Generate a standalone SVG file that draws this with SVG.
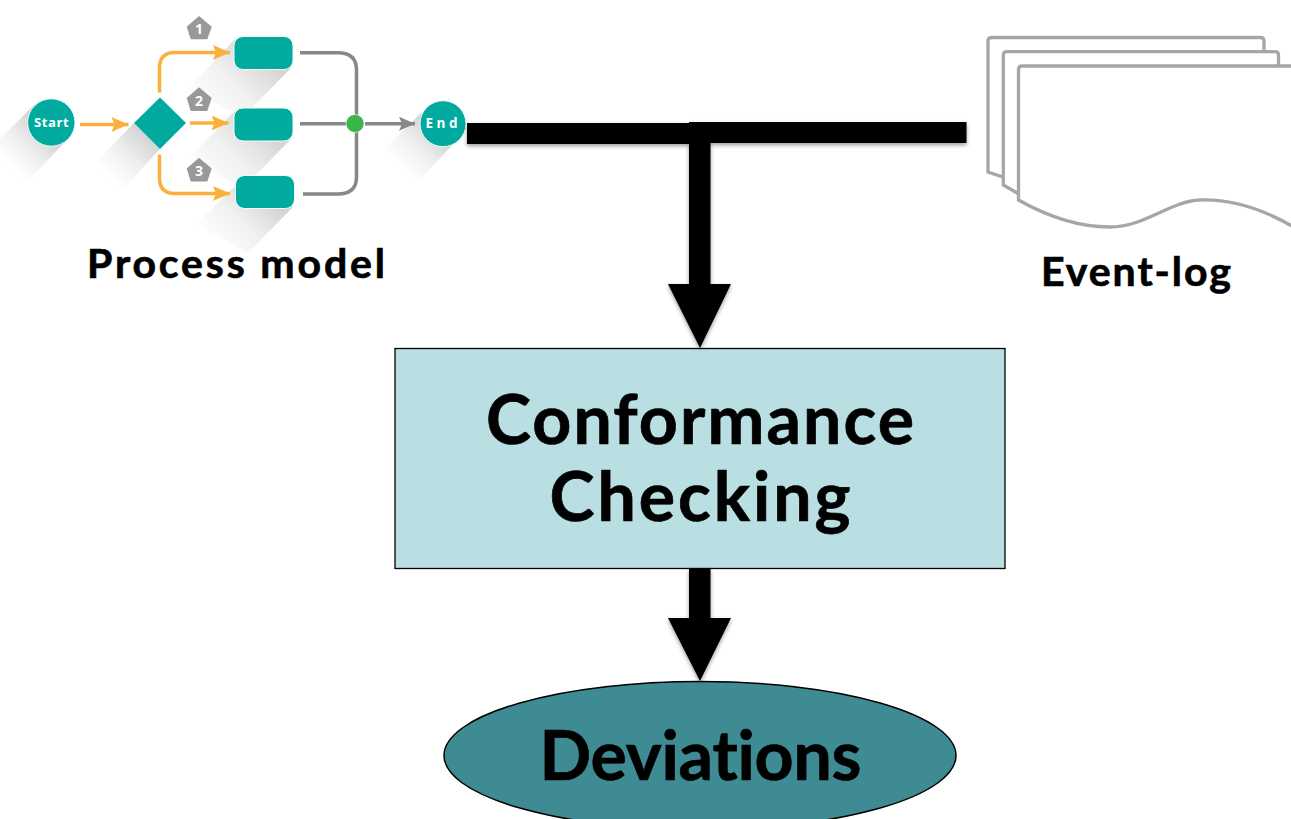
<svg xmlns="http://www.w3.org/2000/svg" width="1291" height="819" viewBox="0 0 1291 819">
<defs>
<linearGradient id="fade"><stop offset="0" stop-color="#000" stop-opacity=".17"/><stop offset=".5" stop-color="#000" stop-opacity=".06"/><stop offset="1" stop-color="#000" stop-opacity="0"/></linearGradient>
<linearGradient id="s-start" href="#fade" gradientUnits="userSpaceOnUse" x1="44" y1="129" x2="8" y2="165"/>
<linearGradient id="s-gate" href="#fade" gradientUnits="userSpaceOnUse" x1="147" y1="136" x2="108" y2="177"/>
<linearGradient id="s-t1" href="#fade" gradientUnits="userSpaceOnUse" x1="272" y1="60" x2="212" y2="120"/>
<linearGradient id="s-t2" href="#fade" gradientUnits="userSpaceOnUse" x1="272" y1="131" x2="212" y2="191"/>
<linearGradient id="s-t3" href="#fade" gradientUnits="userSpaceOnUse" x1="272" y1="199" x2="220" y2="251"/>
<linearGradient id="s-end" href="#fade" gradientUnits="userSpaceOnUse" x1="436" y1="130" x2="399" y2="167"/>
<filter id="drop" x="-5%" y="-5%" width="110%" height="110%"><feDropShadow dx="0" dy="2" stdDeviation="2" flood-color="#000" flood-opacity=".4"/></filter>
<marker id="oa" markerUnits="userSpaceOnUse" markerWidth="18" markerHeight="16" refX="17" refY="7.500" orient="auto"><path d="M0,0 L17,7.500 L0,15 L3,7.500 Z" fill="#fbb03b"/></marker>
<marker id="ga" markerUnits="userSpaceOnUse" markerWidth="18" markerHeight="16" refX="16" refY="7" orient="auto"><path d="M0,0 L16,7 L0,14 L3,7 Z" fill="#888"/></marker>
</defs>
<style>
.lab{font-family:"Lato","Liberation Sans",sans-serif;font-weight:700;fill:#000;stroke:#000;stroke-width:.7;text-anchor:middle;font-variant-ligatures:none}
.big{font-size:68px}
.sm{font-size:41px}
.t{fill:#00aa9e;stroke:#f2fafa;stroke-width:1}
.o{fill:none;stroke:#fbb03b;stroke-width:3.500}
.g{fill:none;stroke:#888;stroke-width:3.500}
.p{fill:#fff;stroke:#a6a6a6;stroke-width:3.300}
.nt{font-family:"Open Sans","Liberation Sans",sans-serif;font-weight:700;fill:#fff;text-anchor:middle}
.pn{font-family:"Open Sans","Liberation Sans",sans-serif;font-weight:700;fill:#fff;text-anchor:middle;font-size:14px}
.pent{fill:#999}
</style>
<g id="shadows">
<path d="M34,105 L0,139 L0,165 L23,186 L68,139 Z" fill="url(#s-start)"/>
<path d="M134,123 L95,163 L122,190 L160,149 Z" fill="url(#s-gate)"/>
<path d="M234,40 L187,90 L243,117 L291,68 Z" fill="url(#s-t1)"/>
<path d="M234,112 L187,160 L243,188 L291,139 Z" fill="url(#s-t2)"/>
<path d="M236,185 L195,225 L248,253 L293,207 Z" fill="url(#s-t3)"/>
<path d="M421,113 L383,150 L415,185 L459,138 Z" fill="url(#s-end)"/>
</g>
<g id="connectors">
<path class="o" d="M80,124.500 H128.500" marker-end="url(#oa)"/>
<path class="o" d="M190,123 H228.500" marker-end="url(#oa)"/>
<path class="o" d="M159.500,92.500 V68 Q159.500,52.500 175,52.500 H230" marker-end="url(#oa)"/>
<path class="o" d="M159.500,154.500 V178 Q159.500,193.500 175,193.500 H230" marker-end="url(#oa)"/>
<path class="g" d="M300,52.700 H338 Q356.500,52.700 356.500,70 V177 Q356.500,194 338,194 H303"/>
<path class="g" d="M300,123.700 H346"/>
<path class="g" d="M365,123.700 H415" marker-end="url(#ga)"/>
</g>
<g id="start"><circle class="t" cx="51.300" cy="122.500" r="23.700"/><text class="nt" x="51.300" y="126.700" font-size="13" textLength="34.500">Start</text></g>
<g id="gateway"><polygon points="160,97.500 186,123 160,149 134,123" fill="#00aa9e"/></g>
<g id="task1"><rect class="t" x="234" y="36.500" width="59" height="33" rx="9"/></g>
<g id="task2"><rect class="t" x="234" y="108" width="59" height="33" rx="9"/></g>
<g id="task3"><rect class="t" x="235.500" y="175.500" width="59" height="33" rx="9"/></g>
<g id="badge1"><polygon class="pent" points="199,16 211.700,26.700 207.300,39.300 190.700,39.300 186.700,26.700"/><text class="pn" x="199" y="34">1</text></g>
<g id="badge2"><polygon class="pent" points="199,87.300 211.700,98 207.300,111 190.700,111 186.700,98"/><text class="pn" x="199" y="105.500">2</text></g>
<g id="badge3"><polygon class="pent" points="199,157.700 211.700,168.500 207.300,181.500 190.700,181.500 186.700,168.500"/><text class="pn" x="199" y="176">3</text></g>
<g id="join"><circle cx="355" cy="123.500" r="9" fill="#39b54a" stroke="#eef7ee" stroke-width=".6"/></g>
<g id="end"><circle class="t" cx="443" cy="123.700" r="23"/><text class="nt" x="443.300" y="128.300" font-size="13.500" letter-spacing="3.500">End</text></g>
<g id="process-model-label"><text class="lab sm" x="236" y="277.500" textLength="298">Process model</text></g>
<g id="event-log">
<path class="p" d="M988,172 V41 Q988,37.500 992,37.500 H1260 Q1264,37.500 1264,41 V60 H1012 V180 Z"/>
<path class="p" d="M1003.300,185 V55 Q1003.300,51.700 1007,51.700 H1275 Q1278.500,51.700 1278.500,55 V70 H1024 V197 Z"/>
<path class="p" d="M1018.500,200 V69.500 Q1018.500,66 1022,66 H1300 V232 L1291,225.500 C1262,209 1230,199 1200,200 C1170,201 1145,227 1110,227 C1075,227 1045,215 1018.500,200 Z"/>
<text class="lab sm" x="1136" y="286" textLength="190">Event-log</text>
</g>
<g id="conformance"><rect x="395" y="348.500" width="610" height="220" fill="#b9dfe2" stroke="#000" stroke-width="1.300"/><text class="lab big" x="700" y="444" textLength="428">Conformance</text><text class="lab big" x="700" y="520.500" textLength="301">Checking</text></g>
<g id="deviations"><ellipse cx="700" cy="755.500" rx="256" ry="74" fill="#3e8b93" stroke="#000" stroke-width="1.500"/><text class="lab big" x="700.500" y="780" textLength="322">Deviations</text></g>
<g id="flow" filter="url(#drop)">
<rect x="467" y="123" width="233" height="21"/>
<rect x="696" y="122" width="270.500" height="21"/>
<polygon points="689,122 710.500,122 710.500,284 731,284 700,348 668,284 689,284"/>
<polygon points="689,568 710.500,568 710.500,618 731,618 700,681 668,618 689,618"/>
</g>
</svg>
